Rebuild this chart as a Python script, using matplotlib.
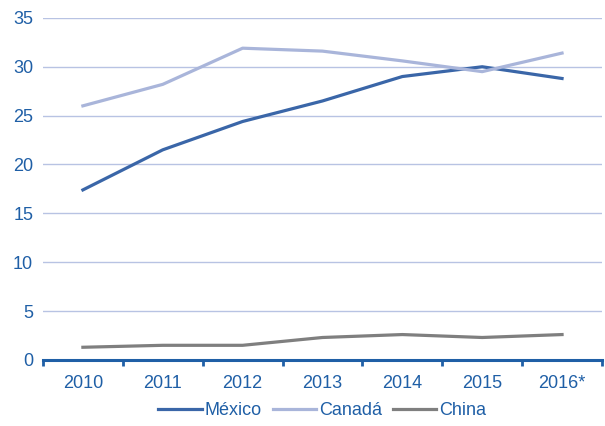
import matplotlib

matplotlib.use("Agg")
import matplotlib.pyplot as plt
import numpy as np

years = ["2010", "2011", "2012", "2013", "2014", "2015", "2016*"]
mexico = [17.4, 21.5, 24.4, 26.5, 29.0, 30.0, 28.8]
canada = [26.0, 28.2, 31.9, 31.6, 30.6, 29.5, 31.4]
china = [1.3, 1.5, 1.5, 2.3, 2.6, 2.3, 2.6]

TEXT = "#1f5fa6"
GRID = "#b8c3e3"

plt.rcParams["font.family"] = ["Liberation Sans", "DejaVu Sans"]

fig = plt.figure(figsize=(6.05, 4.26), dpi=100)
ax = fig.add_axes([0.071, 0.155, 0.924, 0.803])

x = np.arange(len(years))
ax.plot(x, mexico, color="#3a66a8", linewidth=2.3, label="México")
ax.plot(x, canada, color="#a9b5da", linewidth=2.3, label="Canadá")
ax.plot(x, china, color="#7f7f7f", linewidth=2.3, label="China")

ax.set_xlim(-0.5, len(years) - 0.5)
ax.set_ylim(0, 35)
ax.set_yticks(range(0, 36, 5))
ax.yaxis.grid(True, color=GRID, linewidth=1.0)
ax.set_axisbelow(True)

ax.set_xticks(x)
ax.set_xticklabels(years)
ax.set_xticks(np.arange(-0.5, len(years)), minor=True)
ax.tick_params(axis="x", which="major", length=0, pad=11, labelsize=13, labelcolor=TEXT)
ax.tick_params(axis="x", which="minor", length=4, width=2, color=TEXT, direction="out")
ax.tick_params(axis="y", length=0, pad=7, labelsize=13, labelcolor=TEXT)

for side in ["top", "right", "left"]:
    ax.spines[side].set_visible(False)
ax.spines["bottom"].set_color(TEXT)
ax.spines["bottom"].set_linewidth(2.2)

leg = ax.legend(
    loc="center",
    bbox_to_anchor=(0.5, -0.148),
    ncol=3,
    frameon=False,
    fontsize=13,
    handlelength=2.4,
    handletextpad=0.17,
    columnspacing=0.6,
)
for t in leg.get_texts():
    t.set_color(TEXT)

plt.savefig("out.png", dpi=100)
plt.close()
